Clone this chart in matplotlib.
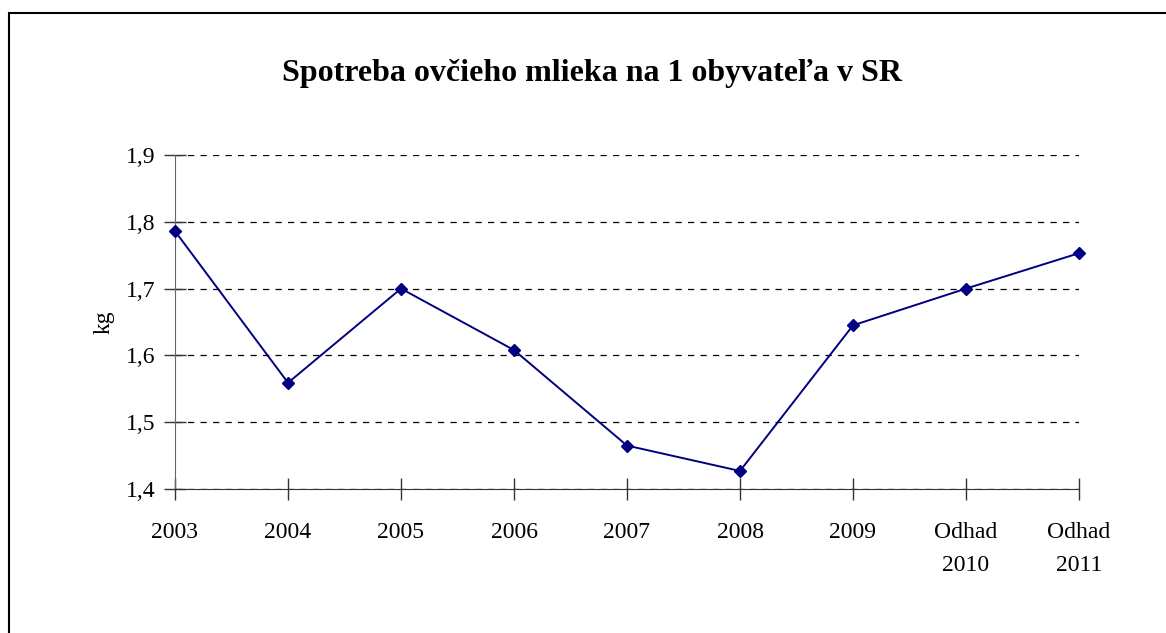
import matplotlib.pyplot as plt
from matplotlib.patches import Rectangle

plt.rcParams['font.family'] = ['Liberation Serif', 'DejaVu Serif']

roky = ['2003', '2004', '2005', '2006', '2007', '2008', '2009', 'Odhad\n2010', 'Odhad\n2011']
spotreba = [1.786, 1.559, 1.700, 1.608, 1.465, 1.427, 1.645, 1.700, 1.753]
y_ticks = [1.4, 1.5, 1.6, 1.7, 1.8, 1.9]
y_labels = ['1,4', '1,5', '1,6', '1,7', '1,8', '1,9']

fig = plt.figure(figsize=(11.66, 6.33), dpi=100)
ax = fig.add_axes([175 / 1166, 1 - 489 / 633, (1079 - 175) / 1166, (489 - 155) / 633])

# ramik okolo grafu
fig.patches.append(Rectangle((9 / 1166, -0.1), 1.2, 1 - 13 / 633 + 0.1, transform=fig.transFigure,
                             fill=False, edgecolor='black', linewidth=1.5))

x = list(range(len(roky)))
ax.plot(x, spotreba, color='#000080', linewidth=1.4, marker='D', markersize=6.5, zorder=3, clip_on=False)

ax.set_xlim(0, len(roky) - 1)
ax.set_ylim(1.4, 1.9)
ax.set_yticks(y_ticks)
ax.set_yticklabels(y_labels, fontsize=17)
ax.set_xticks(x)
ax.set_xticklabels(roky, fontsize=17, linespacing=1.75)

ax.grid(axis='y', color='black', linestyle=(0, (5, 5)), linewidth=0.9)
ax.tick_params(axis='both', direction='inout', length=16, width=1, color='#333333', pad=6)
ax.tick_params(axis='x', pad=16)

for s in ['top', 'right']:
    ax.spines[s].set_visible(False)
ax.spines['left'].set_color('#666666')
ax.spines['bottom'].set_color('#333333')

ax.set_ylabel('kg', fontsize=17, labelpad=8)
fig.text(592 / 1166, 1 - 74 / 633, 'Spotreba ovčieho mlieka na 1 obyvateľa v SR',
         fontsize=23, fontweight='bold', ha='center', va='center')

fig.savefig('out.png', dpi=100)
